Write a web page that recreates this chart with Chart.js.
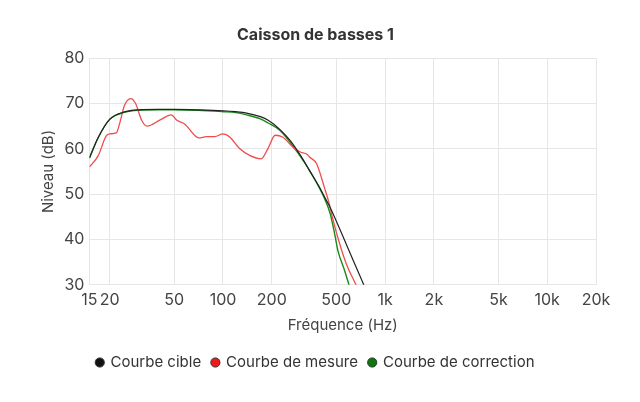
<!DOCTYPE html>
<html>
<head>
<meta charset="utf-8">
<script src="https://cdn.jsdelivr.net/npm/chart.js@4"></script>
<style>
  html, body { margin: 0; padding: 0; background: #fff; }
  #wrap { width: 640px; height: 402px; }
</style>
</head>
<body>
<div id="wrap"><canvas id="chart"></canvas></div>
<script>
// Tick positions on the frequency axis
const freqTicks = [15, 20, 50, 100, 200, 500, 1000, 2000, 5000, 10000, 20000];

// Courbe cible (target)
const targetFreq = [15, 17, 20, 25, 30, 40, 50, 70, 100, 120, 140, 170, 190, 224, 260, 300, 342, 390, 432, 462, 577, 743, 1000];
const targetDb   = [58, 62.5, 66.5, 68.2, 68.6, 68.7, 68.7, 68.6, 68.4, 68.2, 67.9, 67.1, 66.3, 64.3, 61.8, 58.6, 55.2, 51.8, 48.8, 46.8, 38.9, 29.8, 19.6];

// Courbe de mesure (measurement)
const measFreq = [15, 17, 19, 20, 22, 23, 24.7, 27, 28.9, 31.5, 34, 41, 48, 52, 58, 71, 79, 89, 100, 110, 127, 147, 172, 189, 210, 233, 277, 300, 330, 342, 378, 422, 450, 476, 525, 577, 665, 720];
const measDb   = [56, 58.5, 62.8, 63.3, 63.5, 65.5, 69.6, 71.1, 70, 66.3, 65, 66.4, 67.5, 66.3, 65.5, 62.4, 62.7, 62.7, 63.3, 62.6, 60, 58.5, 57.8, 60, 63, 62.6, 60, 59.3, 58.8, 58.2, 56.7, 51.5, 48.2, 44.5, 39, 34.6, 29.8, 27];

// Courbe de correction
const corrFreq = [15, 17, 20, 25, 30, 40, 50, 70, 100, 120, 140, 170, 190, 224, 283, 342, 432, 460, 490, 512, 563, 601, 650];
const corrDb   = [58, 62.5, 66.5, 68.1, 68.5, 68.6, 68.6, 68.5, 68.2, 68, 67.5, 66.6, 65.7, 64.1, 59.6, 55.2, 48.3, 45.5, 41, 37.5, 33.1, 29.8, 26];

const fontFamily = 'Inter, "Noto Sans", sans-serif';
const textColor = '#444';

function toPoints(xs, ys) {
  return xs.map((x, i) => ({ x: x, y: ys[i] }));
}

function fmtFreq(v) {
  return v >= 1000 ? (v / 1000) + 'k' : String(v);
}

new Chart(document.getElementById('chart'), {
  type: 'line',
  data: {
    datasets: [
      {
        label: 'Courbe cible',
        data: toPoints(targetFreq, targetDb),
        borderColor: '#222',
        backgroundColor: '#111',
        borderWidth: 1.2,
        pointRadius: 0,
        cubicInterpolationMode: 'monotone'
      },
      {
        label: 'Courbe de mesure',
        data: toPoints(measFreq, measDb),
        borderColor: '#f04c4c',
        backgroundColor: '#f01818',
        borderWidth: 1.3,
        pointRadius: 0,
        cubicInterpolationMode: 'monotone'
      },
      {
        label: 'Courbe de correction',
        data: toPoints(corrFreq, corrDb),
        borderColor: '#178a17',
        backgroundColor: '#0a780a',
        borderWidth: 1.4,
        pointRadius: 0,
        cubicInterpolationMode: 'monotone'
      }
    ]
  },
  options: {
    responsive: true,
    maintainAspectRatio: false,
    animation: false,
    layout: { padding: { left: 35, right: 44, top: 20, bottom: 22 } },
    plugins: {
      title: {
        display: true,
        text: 'Caisson de basses 1',
        color: '#333',
        font: { family: fontFamily, size: 16, weight: 'bold' },
        padding: { top: 6, bottom: 13 }
      },
      legend: {
        position: 'bottom',
        labels: {
          usePointStyle: true,
          pointStyle: 'circle',
          boxWidth: 6.5,
          boxHeight: 6.5,
          color: '#333',
          padding: 11,
          font: { family: fontFamily, size: 15 },
          generateLabels: (chart) => chart.data.datasets.map((ds, i) => ({
            text: ds.label,
            fillStyle: ds.backgroundColor,
            strokeStyle: '#333',
            lineWidth: 1,
            pointStyle: 'circle',
            datasetIndex: i,
            fontColor: '#333'
          }))
        }
      },
      tooltip: { enabled: false }
    },
    scales: {
      x: {
        type: 'logarithmic',
        min: 15,
        max: 20000,
        afterBuildTicks: (axis) => { axis.ticks = freqTicks.map(v => ({ value: v })); },
        ticks: {
          color: textColor,
          font: { family: fontFamily, size: 16 },
          maxRotation: 0,
          autoSkip: false,
          padding: 6,
          callback: (v) => fmtFreq(v)
        },
        grid: { color: '#e6e6e6', drawTicks: false },
        border: { color: '#e6e6e6' },
        title: {
          display: true,
          text: 'Fréquence (Hz)',
          color: textColor,
          font: { family: fontFamily, size: 15 },
          padding: { top: 0, bottom: 10 }
        }
      },
      y: {
        min: 30,
        max: 80,
        ticks: {
          stepSize: 10,
          color: textColor,
          font: { family: fontFamily, size: 16 },
          padding: 5
        },
        grid: { color: '#e6e6e6', drawTicks: false },
        border: { color: '#e6e6e6' },
        title: {
          display: true,
          text: 'Niveau (dB)',
          color: textColor,
          font: { family: fontFamily, size: 15 },
          padding: { top: 4, bottom: 2 }
        }
      }
    }
  }
});
</script>
</body>
</html>
